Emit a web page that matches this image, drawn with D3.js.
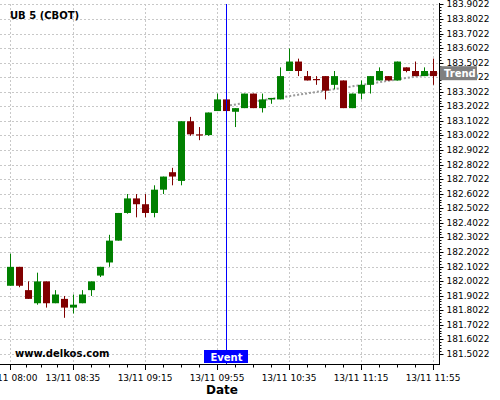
<!DOCTYPE html>
<html><head><meta charset="utf-8">
<script src="https://cdn.jsdelivr.net/npm/d3@7"></script>
<style>body{margin:0;background:#fff} svg{display:block;font-family:"DejaVu Sans",sans-serif}</style>
</head><body><svg id="c" width="500" height="400"></svg>
<script>
const title = "UB 5 (CBOT)";
const watermark = "www.delkos.com";
const xTitle = "Date";
const dateStr = "2024-11-13";
const times = ["08:00","08:05","08:10","08:15","08:20","08:25","08:30","08:35","08:40","08:45","08:50","08:55",
  "09:00","09:05","09:10","09:15","09:20","09:25","09:30","09:35","09:40","09:45","09:50","09:55",
  "10:00","10:05","10:10","10:15","10:20","10:25","10:30","10:35","10:40","10:45","10:50","10:55",
  "11:00","11:05","11:10","11:15","11:20","11:25","11:30","11:35","11:40","11:45","11:50","11:55"];
const open  = [181.97,182.10,181.94,181.85,182.00,181.85,181.88,181.82,181.85,181.94,182.04,182.13,
  182.28,182.47,182.57,182.53,182.47,182.63,182.75,182.69,183.10,183.01,183.005,183.17,
  183.25,183.165,183.19,183.29,183.19,183.25,183.25,183.445,183.51,183.41,183.39,183.41,
  183.35,183.38,183.19,183.29,183.35,183.38,183.41,183.38,183.47,183.445,183.41,183.445];
const high  = [182.19,182.10,182.00,182.06,182.00,181.94,181.90,181.91,181.94,182.00,182.10,182.32,
  182.47,182.60,182.60,182.60,182.66,182.72,182.78,183.10,183.13,183.06,183.16,183.29,
  183.25,183.19,183.29,183.29,183.29,183.26,183.47,183.60,183.53,183.445,183.41,183.41,
  183.445,183.38,183.29,183.38,183.41,183.47,183.41,183.51,183.47,183.51,183.47,183.53];
const low   = [181.97,181.96,181.88,181.84,181.82,181.85,181.75,181.78,181.85,181.90,182.03,182.10,
  182.28,182.465,182.44,182.44,182.44,182.60,182.66,182.66,183.00,182.97,183.00,183.17,
  183.17,183.06,183.19,183.19,183.16,183.22,183.25,183.445,183.41,183.38,183.35,183.25,
  183.32,183.19,183.19,183.25,183.29,183.38,183.38,183.38,183.436,183.41,183.41,183.35];
const close = [182.10,181.97,181.88,182.00,181.85,181.91,181.82,181.84,181.91,182.00,182.10,182.28,
  182.47,182.57,182.53,182.47,182.63,182.72,182.72,183.10,183.01,183.005,183.16,183.25,
  183.17,183.19,183.29,183.19,183.25,183.26,183.41,183.51,183.445,183.38,183.385,183.31,
  183.41,183.19,183.29,183.35,183.41,183.445,183.38,183.51,183.445,183.41,183.445,183.41];
const priceTicks = [181.5022,181.6022,181.7022,181.8022,181.9022,182.0022,182.1022,182.2022,182.3022,
  182.4022,182.5022,182.6022,182.7022,182.8022,182.9022,183.0022,183.1022,183.2022,183.3022,
  183.4022,183.5022,183.6022,183.7022,183.8022,183.9022];
const timeTicks = ["08:00","08:35","09:15","09:55","10:35","11:15","11:55"];
const eventTime = "10:00";
const eventLabel = "Event";
const trendTimes = ["10:00","12:00"];
const trendValues = [183.205, 183.435];
const trendLabel = "Trend";
const trendLabelValue = 183.43;

const parse = d3.timeParse("%Y-%m-%d %H:%M:%S");
const T = s => parse(dateStr + " " + (s.length === 5 ? s + ":00" : s));

const W = 500, H = 400;
const plot = {left: 0, right: 439, top: 4, bottom: 364};
const svg = d3.select("#c");

const x = d3.scaleTime().domain([T("07:54:27"), T("11:58:20")]).range([plot.left, plot.right]);
const y = d3.scaleLinear().domain([181.4327, 183.9052]).range([plot.bottom, plot.top]);
const px = v => Math.round(v) + 0.5;

svg.append("defs").append("clipPath").attr("id", "clip")
  .append("rect").attr("x", plot.left).attr("y", plot.top)
  .attr("width", plot.right - plot.left).attr("height", plot.bottom - plot.top);

// grid
const grid = svg.append("g").attr("stroke", "#c8c8c8").attr("stroke-dasharray", "2,2").attr("stroke-width", 1);
grid.selectAll(".hg").data(priceTicks).join("line")
  .attr("x1", plot.left).attr("x2", plot.right)
  .attr("y1", d => px(y(d))).attr("y2", d => px(y(d)));
grid.selectAll(".vg").data(timeTicks).join("line")
  .attr("y1", plot.top).attr("y2", plot.bottom)
  .attr("x1", d => px(x(T(d)))).attr("x2", d => px(x(T(d))));

// title
svg.append("text").attr("x", 10).attr("y", 18.5).attr("font-size", 10).attr("font-weight", "bold")
  .attr("fill", "#000").text(title);

// trend line
svg.append("g").attr("clip-path", "url(#clip)").append("path")
  .datum(trendTimes.map((t, i) => [T(t), trendValues[i]]))
  .attr("fill", "none").attr("stroke", "#999").attr("stroke-width", 2).attr("stroke-dasharray", "2,2")
  .attr("d", d3.line().x(d => x(d[0])).y(d => y(d[1])));

// candles
const data = times.map((t, i) => ({t: T(t), o: open[i], h: high[i], l: low[i], c: close[i]}));
const cg = svg.append("g");
const col = d => d.c >= d.o ? "#008000" : "#800000";
cg.selectAll(".w").data(data).join("line")
  .attr("x1", d => px(x(d.t))).attr("x2", d => px(x(d.t)))
  .attr("y1", d => y(d.h)).attr("y2", d => y(d.l))
  .attr("stroke", col).attr("stroke-width", 1);
cg.selectAll(".b").data(data).join("rect")
  .attr("x", d => Math.round(x(d.t)) - 3).attr("width", 7)
  .attr("y", d => y(Math.max(d.o, d.c)))
  .attr("height", d => Math.max(1.2, Math.abs(y(d.o) - y(d.c))))
  .attr("fill", col);

// event line
const ex = px(x(T(eventTime)));
svg.append("line").attr("x1", ex).attr("x2", ex).attr("y1", plot.top).attr("y2", plot.bottom)
  .attr("stroke", "#0000ff").attr("stroke-width", 1);

// axes lines
svg.append("line").attr("x1", plot.left).attr("x2", plot.right + 1).attr("y1", plot.bottom + 0.5).attr("y2", plot.bottom + 0.5)
  .attr("stroke", "#000");
svg.append("line").attr("x1", plot.right + 0.5).attr("x2", plot.right + 0.5).attr("y1", plot.top - 1).attr("y2", plot.bottom + 1)
  .attr("stroke", "#000");

// right axis
const ya = svg.append("g").attr("transform", `translate(${plot.right + 0.5},0)`)
  .call(d3.axisRight(y).tickValues(priceTicks).tickFormat(d3.format(".4f")).tickSize(4).tickPadding(3));
ya.select(".domain").remove();
ya.selectAll("text").attr("font-size", 9).attr("font-family", "DejaVu Sans").attr("fill", "#000");
ya.selectAll(".tick").attr("transform", d => `translate(0,${px(y(d))})`);
// minor y ticks
const minorY = [];
for (let i = 0; i < priceTicks.length - 1; i++)
  for (let k = 1; k < 5; k++) minorY.push(priceTicks[i] + (priceTicks[i + 1] - priceTicks[i]) * k / 5);
svg.append("g").selectAll("line").data(minorY).join("line")
  .attr("x1", plot.right + 0.5).attr("x2", plot.right + 2.5)
  .attr("y1", d => px(y(d))).attr("y2", d => px(y(d))).attr("stroke", "#000");

// bottom axis
const fmt = d3.timeFormat("%d/%m %H:%M");
const xa = svg.append("g");
xa.selectAll(".mt").data(timeTicks).join("line")
  .attr("x1", d => px(x(T(d)))).attr("x2", d => px(x(T(d))))
  .attr("y1", plot.bottom).attr("y2", plot.bottom + 6).attr("stroke", "#000");
xa.selectAll(".tl").data(timeTicks).join("text")
  .attr("x", d => x(T(d))).attr("y", 381).attr("text-anchor", "middle")
  .attr("font-size", 9).attr("fill", "#000").text(d => fmt(T(d)));
const minorX = [];
for (let i = 0; i < timeTicks.length - 1; i++) {
  const a = T(timeTicks[i]).getTime(), b = T(timeTicks[i + 1]).getTime();
  for (let k = 1; k < 4; k++) minorX.push(new Date(a + (b - a) * k / 4));
}
xa.selectAll(".nt").data(minorX).join("line")
  .attr("x1", d => px(x(d))).attr("x2", d => px(x(d)))
  .attr("y1", plot.bottom).attr("y2", plot.bottom + 3.5).attr("stroke", "#000");

svg.append("text").attr("x", 222).attr("y", 394).attr("text-anchor", "middle")
  .attr("font-size", 12).attr("font-weight", "bold").text(xTitle);

// watermark
svg.append("text").attr("x", 15).attr("y", 357).attr("font-size", 10).attr("font-weight", "bold")
  .attr("fill", "#000").text(watermark);

// event label
svg.append("rect").attr("x", ex - 22.5).attr("y", 350).attr("width", 44).attr("height", 13).attr("fill", "#0000ff");
svg.append("text").attr("x", ex).attr("y", 360.5).attr("text-anchor", "middle")
  .attr("font-size", 10).attr("font-weight", "bold").attr("fill", "#fff").text(eventLabel);

// trend label
const ty = y(trendLabelValue);
svg.append("rect").attr("x", 440).attr("y", ty - 7).attr("width", 37).attr("height", 14).attr("fill", "#808080");
svg.append("text").attr("x", 444).attr("y", ty + 3.8)
  .attr("font-size", 10).attr("font-weight", "bold").attr("fill", "#fff").text(trendLabel);
</script></body></html>
